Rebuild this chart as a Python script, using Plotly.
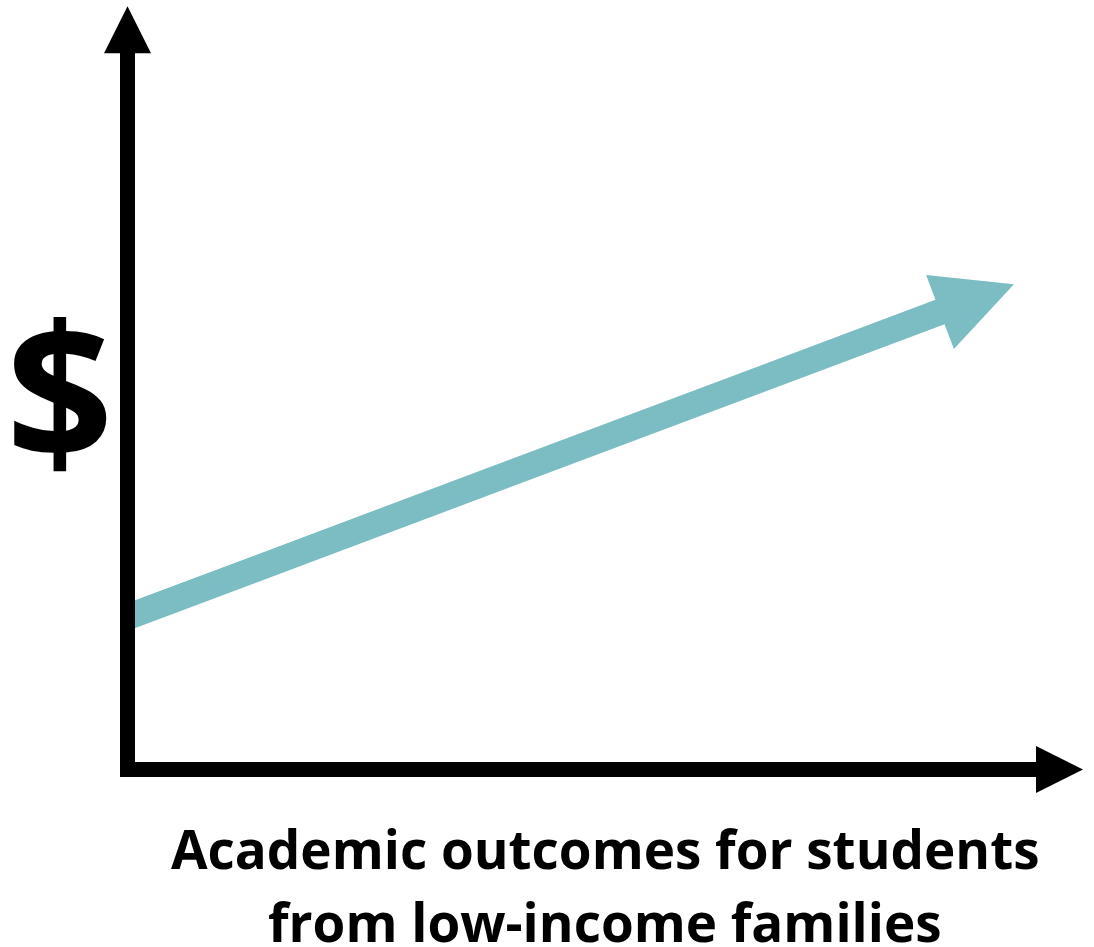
import math
import plotly.graph_objects as go

# ---- data (abstract units) ----
outcomes = [0, 10]          # x: academic outcomes
dollars = [2, 6]            # y: funding
x_axis_end = 11.76          # tip of x-axis arrow (data units)
y_axis_end = 10.01          # tip of y-axis arrow (data units)
x_label_lines = ["Academic outcomes for students", "from low-income families"]
y_label = "$"

# ---- style / layout ----
W, H = 1094, 947
ORIGIN_PX = (127.5, 769.5)   # pixel position of data (0, 0)
SX, SY = 81.25, 76.25        # pixels per data unit
AXIS_T = 15                  # axis stroke thickness (px)
AXIS_HEAD_L, AXIS_HEAD_W = 47, 47
TEAL = "#7BBDC2"
SHAFT_T = 26
HEAD_L, HEAD_W = 79, 79
FONT = "Open Sans"
LABEL_SIZE = 53
LABEL_CENTERS_PX = [(605, 848), (605, 921)]


def to_px(x, y):
    return ORIGIN_PX[0] + x * SX, ORIGIN_PX[1] - y * SY


def to_data(px, py):
    return (px - ORIGIN_PX[0]) / SX, (ORIGIN_PX[1] - py) / SY


def poly_trace(pts_px, color):
    xs, ys = zip(*[to_data(px, py) for px, py in pts_px])
    xs = list(xs) + [xs[0]]
    ys = list(ys) + [ys[0]]
    return go.Scatter(x=xs, y=ys, mode="lines", fill="toself", fillcolor=color,
                      line=dict(width=0, color=color), hoverinfo="skip", showlegend=False)


fig = go.Figure()

# teal arrow (shaft + head) built from the data endpoints
p0 = to_px(outcomes[0], dollars[0])
p1 = to_px(outcomes[1], dollars[1])
dx, dy = p1[0] - p0[0], p1[1] - p0[1]
L = math.hypot(dx, dy)
ux, uy = dx / L, dy / L
nx, ny = -uy, ux
h = SHAFT_T / 2
hw = HEAD_W / 2
arrow = [
    (p0[0] + nx * h, p0[1] + ny * h),
    (p1[0] + nx * h, p1[1] + ny * h),
    (p1[0] + nx * hw, p1[1] + ny * hw),
    (p1[0] + ux * HEAD_L, p1[1] + uy * HEAD_L),
    (p1[0] - nx * hw, p1[1] - ny * hw),
    (p1[0] - nx * h, p1[1] - ny * h),
    (p0[0] - nx * h, p0[1] - ny * h),
]
fig.add_trace(poly_trace(arrow, TEAL))

# black axes with arrow heads
ox, oy = ORIGIN_PX
t = AXIS_T / 2
_, ytip = to_px(0, y_axis_end)
xtip, _ = to_px(x_axis_end, 0)
ybase = ytip + AXIS_HEAD_L
xbase = xtip - AXIS_HEAD_L
vert = [
    (ox - t, oy + t), (ox - t, ybase), (ox - AXIS_HEAD_W / 2, ybase), (ox, ytip),
    (ox + AXIS_HEAD_W / 2, ybase), (ox + t, ybase), (ox + t, oy + t),
]
horiz = [
    (ox - t, oy - t), (xbase, oy - t), (xbase, oy - AXIS_HEAD_W / 2), (xtip, oy),
    (xbase, oy + AXIS_HEAD_W / 2), (xbase, oy + t), (ox - t, oy + t),
]
fig.add_trace(poly_trace(vert, "black"))
fig.add_trace(poly_trace(horiz, "black"))

x0d, y1d = to_data(0, 0)
x1d, y0d = to_data(W, H)

fig.add_annotation(text=y_label, xref="paper", yref="paper", x=60 / W, y=1 - 387 / H,
                   xanchor="center", yanchor="middle", showarrow=False,
                   font=dict(family=FONT, size=188, color="black", weight="bold"))
for line, (cx, cy) in zip(x_label_lines, LABEL_CENTERS_PX):
    fig.add_annotation(text=line, xref="paper", yref="paper",
                       x=cx / W, y=1 - cy / H, xanchor="center", yanchor="middle",
                       showarrow=False, align="center",
                       font=dict(family=FONT, size=LABEL_SIZE, color="black", weight="bold"))

fig.update_layout(
    width=W, height=H, margin=dict(l=0, r=0, t=0, b=0),
    paper_bgcolor="white", plot_bgcolor="white", showlegend=False,
    xaxis=dict(range=[x0d, x1d], visible=False, fixedrange=True),
    yaxis=dict(range=[y0d, y1d], visible=False, fixedrange=True),
)

fig.write_html("out.html", config={"displayModeBar": False},
               post_script="document.body.style.margin='0';document.body.style.overflow='hidden';")
